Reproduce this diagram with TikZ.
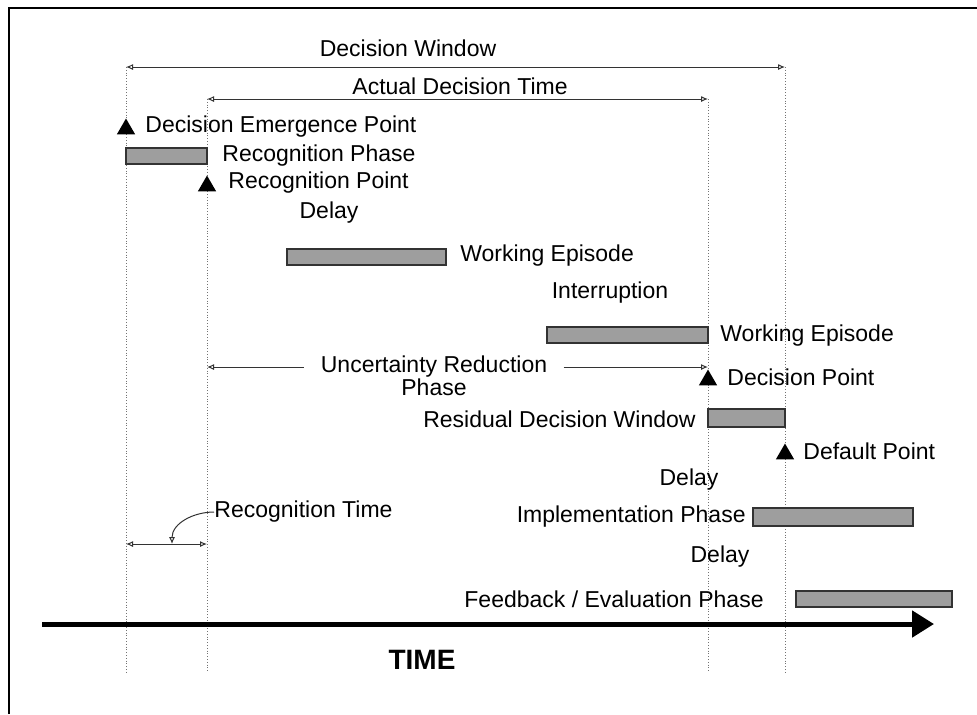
\documentclass[tikz,border=0pt]{standalone}
\usepackage{fontspec}
\setmainfont{Liberation Sans}
\usetikzlibrary{arrows.meta,shapes.geometric,positioning}
\tikzset{
  lbl/.style={inner sep=0pt,font=\fontsize{11.5}{14}\selectfont},
  bar/.style={draw=black!80,fill=black!38,line width=1pt,minimum height=8pt,inner sep=0pt},
  tri/.style={regular polygon,regular polygon sides=3,fill=black,inner sep=0pt,minimum size=10.5pt},
  guide/.style={densely dotted,black!55,line width=0.4pt},
  span/.style={black!80,line width=0.5pt,{Latex[open,length=3.5pt,width=3pt]}-{Latex[open,length=3.5pt,width=3pt]}},
}
\begin{document}
\begin{tikzpicture}[x=0.5pt,y=-0.5pt]
\useasboundingbox (0,0) rectangle (977,714);
\draw[line width=1pt] (9,714) -- (9,8) -- (977,8);

\coordinate (emT) at (126,67);  \coordinate (emB) at (126,672);
\coordinate (rpT) at (207,99);  \coordinate (rpB) at (207,672);
\coordinate (dpT) at (708,99);  \coordinate (dpB) at (708,672);
\coordinate (dfT) at (785,67);  \coordinate (dfB) at (785,672);
\draw[guide] (emT) -- (emB);
\draw[guide] (rpT) -- (rpB);
\draw[guide] (dpT) -- (dpB);
\draw[guide] (dfT) -- (dfB);

\node[lbl] (dwin) at (408,48) {Decision Window};
\draw[span] (emT) -- (dfT);
\node[lbl] (adt) at (460,86) {Actual Decision Time};
\draw[span] (rpT) -- (dpT);

\node[bar,minimum width=40.5pt] (recph) at (166.5,156) {};
\node[bar,minimum width=79.5pt] (work1) at (366.5,257) {};
\node[bar,minimum width=80.5pt] (work2) at (627.5,335) {};
\node[bar,minimum width=38.5pt,minimum height=9pt] (resid) at (746.5,418) {};
\node[bar,minimum width=80pt,minimum height=9pt] (impl) at (833,517) {};
\node[bar,minimum width=78pt] (feed) at (874,598.5) {};

\node[tri] (emerge) at (126,129) {};
\node[tri] (recpt) at (207,186) {};
\node[tri] (decpt) at (708,380) {};
\node[tri] (defpt) at (785,454) {};

\node[lbl,anchor=west] (lemerge) at (145,127) {Decision Emergence Point};
\node[lbl,anchor=west] (lrecph) at (222,156) {Recognition Phase};
\node[lbl,anchor=west] (lrecpt) at (228,183) {Recognition Point};
\node[lbl] (delay1) at (329,213) {Delay};
\node[lbl,anchor=west] (lwork1) at (460,256) {Working Episode};
\node[lbl] (interr) at (610,293) {Interruption};
\node[lbl,anchor=west] (lwork2) at (720,336) {Working Episode};
\node[lbl,anchor=west] (ldecpt) at (727,377) {Decision Point};
\node[lbl,anchor=east] (lresid) at (696,419) {Residual Decision Window};
\node[lbl,anchor=west] (ldefpt) at (803,451) {Default Point};
\node[lbl] (delay2) at (689,480) {Delay};
\node[lbl,anchor=east] (limpl) at (746,517) {Implementation Phase};
\node[lbl] (delay3) at (720,557) {Delay};
\node[lbl,anchor=east] (lfeed) at (764,599) {Feedback / Evaluation Phase};

\coordinate (urL) at (207,367);
\coordinate (urR) at (708,367);
\node[lbl,align=center,inner xsep=8pt,font=\fontsize{11.5}{10}\selectfont] (unc) at (434,376) {Uncertainty Reduction\\Phase};
\draw[black!80,line width=0.5pt,{Latex[open,length=3.5pt,width=3pt]}-] (urL) -- (unc.west |- urL);
\draw[black!80,line width=0.5pt,-{Latex[open,length=3.5pt,width=3pt]}] (unc.east |- urR) -- (urR);

\coordinate (rtL) at (126,544);
\coordinate (rtR) at (207,544);
\coordinate (rtM) at (172,544);
\draw[span] (rtL) -- (rtR);
\node[lbl,anchor=west] (lrect) at (214,512) {Recognition Time};
\draw[black!80,line width=0.5pt,-{Latex[open,length=3.5pt,width=3pt]}] (lrect.west) to[out=180,in=90] (rtM);

\coordinate (tS) at (42,624);
\coordinate (tE) at (934,624);
\draw[line width=2.5pt,-{Triangle[length=11pt,width=13pt]}] (tS) -- (tE);
\node[font=\fontsize{14}{16}\selectfont\bfseries,inner sep=0pt] (time) at (422,660) {TIME};
\end{tikzpicture}
\end{document}
